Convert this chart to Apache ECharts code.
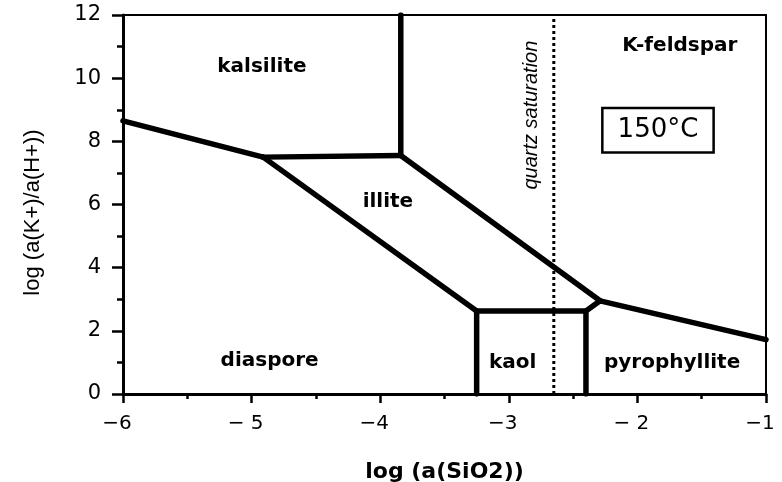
<!DOCTYPE html>
<html>
<head>
<meta charset="utf-8">
<script src="https://cdn.jsdelivr.net/npm/echarts@6/dist/echarts.min.js"></script>
<style>
  html, body { margin: 0; padding: 0; background: #fff; }
  #chart { width: 782px; height: 482px; }
</style>
</head>
<body>
<div id="chart"></div>
<script>
// axis ranges and tick labels
const xTicks = [-6, -5, -4, -3, -2, -1];
const xTickLabels = ['\u22126', '\u2212 5', '\u22124', '\u22123', '\u2212 2', '\u22121'];
const yTicks = [0, 2, 4, 6, 8, 10, 12];

// phase boundaries, [log aSiO2, log aK/aH]
const kalsiliteDiaspore = [[-6, 8.65], [-4.91, 7.5]];
const kalsiliteIllite = [[-4.91, 7.5], [-3.84, 7.55]];
const kalsiliteKfeldspar = [[-3.84, 7.55], [-3.84, 12]];
const illiteKfeldspar = [[-3.84, 7.55], [-2.29, 2.95]];
const kfeldsparPyrophyllite = [[-2.29, 2.95], [-1, 1.72]];
const illiteDiaspore = [[-4.91, 7.5], [-3.25, 2.63]];
const illiteKaol = [[-3.25, 2.63], [-2.4, 2.63], [-2.29, 2.95]];
const diasporeKaol = [[-3.25, 0], [-3.25, 2.63]];
const kaolPyrophyllite = [[-2.4, 0], [-2.4, 2.63]];
const quartzSaturation = [[-2.65, 0], [-2.65, 12]];

// field names
const fieldLabels = [
  [-4.92, 10.35, 'kalsilite'],
  [-3.94, 6.1, 'illite'],
  [-4.86, 1.04, 'diaspore'],
  [-2.97, 0.98, 'kaol'],
  [-1.73, 0.98, 'pyrophyllite'],
  [-1.67, 11.03, 'K-feldspar']
];
const tempLabel = [[-1.84, 8.35, '150°C']];
const quartzLabel = [[-2.825, 8.83, 'quartz saturation']];

const font = 'DejaVu Sans';
const narrow = 'Liberation Sans';

const boundaries = [
  kalsiliteDiaspore, kalsiliteIllite, kalsiliteKfeldspar, illiteKfeldspar,
  kfeldsparPyrophyllite, illiteDiaspore, illiteKaol, diasporeKaol, kaolPyrophyllite
];

const chart = echarts.init(document.getElementById('chart'));

const series = boundaries.map(d => ({
  type: 'line',
  data: d,
  symbol: 'none',
  silent: true,
  lineStyle: { color: '#000', width: 5.5, join: 'round', cap: 'round' },
  z: 3
}));

series.push({
  type: 'line',
  data: quartzSaturation,
  symbol: 'none',
  silent: true,
  lineStyle: { color: '#000', width: 3, type: [3, 3] },
  z: 2
});

// text-only series (no symbols)
function textSeries(data, label) {
  return {
    type: 'scatter',
    data: data,
    symbolSize: 0,
    silent: true,
    itemStyle: { opacity: 1 },
    label: Object.assign({ show: true, position: 'inside', formatter: p => p.data[2] }, label),
    z: 5
  };
}

series.push(textSeries(fieldLabels, {
  color: '#000', fontFamily: font, fontSize: 20, fontWeight: 'bold'
}));
series.push(textSeries(tempLabel, {
  color: '#000', fontFamily: font, fontSize: 26, lineHeight: 30,
  borderColor: '#000', borderWidth: 2.5, padding: [6, 14, 6, 14],
  backgroundColor: '#fff'
}));
series.push(textSeries(quartzLabel, {
  color: '#000', fontFamily: narrow, fontSize: 20, fontStyle: 'italic', rotate: 90
}));

const option = {
  animation: false,
  grid: {
    left: 123, right: 16, top: 15, bottom: 88,
    outerBoundsMode: 'none',
    show: true, borderColor: '#000', borderWidth: 2
  },
  xAxis: {
    type: 'value',
    min: xTicks[0], max: xTicks[xTicks.length - 1], interval: 1,
    name: 'log (a(SiO2))',
    nameLocation: 'middle', nameGap: 67,
    nameTextStyle: { color: '#000', fontFamily: font, fontSize: 22, fontWeight: 'bold' },
    axisLine: { onZero: false, lineStyle: { color: '#000', width: 3 } },
    axisTick: { show: true, length: 9, lineStyle: { color: '#000', width: 2.5 } },
    minorTick: { show: true, splitNumber: 2, length: 5, lineStyle: { color: '#000', width: 2.5 } },
    axisLabel: {
      margin: 20, color: '#000', fontFamily: font, fontSize: 20, padding: [0, 12, 0, 0],
      formatter: v => xTickLabels[xTicks.indexOf(v)]
    },
    splitLine: { show: false }
  },
  yAxis: {
    type: 'value',
    min: yTicks[0], max: yTicks[yTicks.length - 1], interval: 2,
    name: 'log (a(K+)/a(H+))',
    nameLocation: 'middle', nameGap: 79, nameRotate: 90,
    nameTextStyle: { color: '#000', fontFamily: narrow, fontSize: 22, padding: [0, 16, 0, 0] },
    axisLine: { onZero: false, lineStyle: { color: '#000', width: 3 } },
    axisTick: { show: true, length: 11, lineStyle: { color: '#000', width: 2.5 } },
    minorTick: { show: true, splitNumber: 2, length: 6, lineStyle: { color: '#000', width: 2.5 } },
    axisLabel: { margin: 22, color: '#000', fontFamily: font, fontSize: 21 },
    splitLine: { show: false }
  },
  series: series
};

chart.setOption(option);
</script>
</body>
</html>
